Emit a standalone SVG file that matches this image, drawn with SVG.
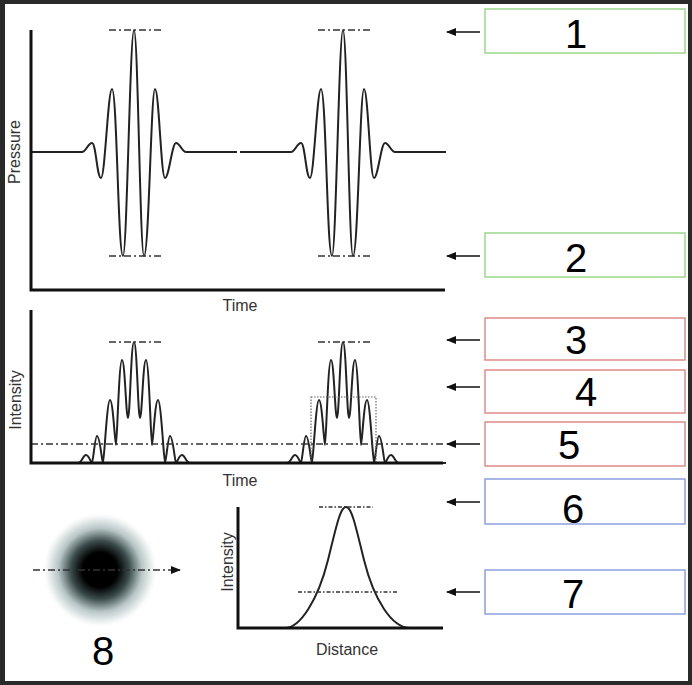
<svg xmlns="http://www.w3.org/2000/svg" width="692" height="685" viewBox="0 0 692 685">
<defs>
<style>
.ax{stroke:#111;stroke-width:3;fill:none}
.w{stroke:#222;stroke-width:2;fill:none}
.dd{stroke:#333;stroke-width:1.6;stroke-dasharray:7,3,2,3;fill:none}
.lbl{font-family:"Liberation Sans",Arial,sans-serif;font-size:16px;fill:#333}
.num{font-family:"Liberation Sans",Arial,sans-serif;font-size:40px;fill:#000}
.box{fill:#fff;stroke-width:1.5}
.g{stroke:#9ad88a}.r{stroke:#e08a8a}.b{stroke:#8f9fe0}
.ar{stroke:#111;stroke-width:1.5;marker-end:url(#ah)}
</style>
<marker id="ah" markerWidth="10" markerHeight="8" refX="9" refY="4" orient="auto" markerUnits="userSpaceOnUse"><path d="M0,0L10,4L0,8z" fill="#111"/></marker>
<radialGradient id="blob"><stop offset="0" stop-color="#000"/><stop offset="0.3" stop-color="#000"/><stop offset="0.5" stop-color="#3a4a4a"/><stop offset="0.72" stop-color="#b8c6c6"/><stop offset="0.9" stop-color="#eef2f2"/><stop offset="1" stop-color="#fff" stop-opacity="0"/></radialGradient>
<path id="pp" d="M31,152 L82,152 C86,152 88,143 92,143 C96,143 97,178 101,178 C105,178 108,89 112,89 C117,89 118,256 123,256 C127,256 130,30 134,30 C138,30 140,256 144,256 C149,256 151,89 155,89 C159,89 161,178 165,178 C169,178 172,143 176,143 C180,143 182,152 186,152 L237,152"/>
<path id="ip" d="M31,463 L78,463 C82,463 83,455 86,455 C89,455 91,463 92,463 C93,463 95,436 97,436 C100,436 102,463 103,463 C104,463 107,400 110,400 C113,400 115,445 116,445 C117,445 119,360 122,360 C125,360 126,418 128,418 C130,418 131,342 134,342 C137,342 138,418 140,418 C142,418 143,360 146,360 C149,360 151,445 152,445 C153,445 155,400 158,400 C161,400 164,463 165,463 C166,463 168,436 170,436 C173,436 175,463 176,463 C177,463 179,455 182,455 C185,455 186,463 190,463 L237,463"/>
</defs>
<rect width="692" height="685" fill="#2a2a2a"/>
<rect x="5" y="4" width="683" height="677" fill="#fff"/>
<g id="pressure-plot">
<use href="#pp" class="w"/>
<use href="#pp" class="w" transform="translate(209,0)"/>
<path class="dd" d="M109,30H162M109,256H162M318,30H371M318,256H371"/>
<path class="ax" d="M31,30V290H445"/>
<text class="lbl" x="240" y="311" text-anchor="middle">Time</text>
<text class="lbl" transform="translate(20,152) rotate(-90)" text-anchor="middle">Pressure</text>
</g>
<g id="intensity-plot">
<use href="#ip" class="w"/>
<use href="#ip" class="w" transform="translate(209,0)"/>
<path class="dd" d="M109,342H162M318,342H371M31,444H445"/>
<rect x="311" y="397" width="65" height="66" fill="none" stroke="#666" stroke-width="1.2" stroke-dasharray="1.5,1.5"/>
<path class="ax" d="M31,310V463H443"/>
<text class="lbl" x="240" y="486" text-anchor="middle">Time</text>
<text class="lbl" transform="translate(21,400) rotate(-90)" text-anchor="middle">Intensity</text>
</g>
<g id="spot">
<circle cx="100" cy="570" r="58" fill="url(#blob)"/>
<path class="dd" d="M33,570H180" style="marker-end:url(#ah)"/>
<text class="num" x="103" y="665" text-anchor="middle" font-size="46">8</text>
</g>
<g id="gauss-plot">
<path class="w" d="M285,628 C300,628 318,600 328,560 C336,528 340,507 346,507 C352,507 356,528 364,560 C374,600 392,628 410,628"/>
<path class="dd" d="M319,507H373M298,592H398" style="stroke-dasharray:4,2,1.5,2"/>
<path class="ax" d="M238,507V628H443"/>
<text class="lbl" x="347" y="655" text-anchor="middle">Distance</text>
<text class="lbl" transform="translate(233,562) rotate(-90)" text-anchor="middle">Intensity</text>
</g>
<g id="box1"><rect class="box g" x="485" y="9" width="200" height="44"/><text class="num" x="565" y="48">1</text></g>
<g id="box2"><rect class="box g" x="485" y="233" width="200" height="44"/><text class="num" x="565" y="272">2</text></g>
<g id="box3"><rect class="box r" x="485" y="318" width="200" height="42"/><text class="num" x="565" y="354">3</text></g>
<g id="box4"><rect class="box r" x="485" y="370" width="200" height="43"/><text class="num" x="575" y="406">4</text></g>
<g id="box5"><rect class="box r" x="485" y="422" width="200" height="44"/><text class="num" x="558" y="459">5</text></g>
<g id="box6"><rect class="box b" x="485" y="479" width="200" height="45"/><text class="num" x="562" y="523">6</text></g>
<g id="box7"><rect class="box b" x="485" y="570" width="200" height="44"/><text class="num" x="562" y="608">7</text></g>
<g id="connectors">
<path class="ar" d="M480,32H447"/>
<path class="ar" d="M480,256H447"/>
<path class="ar" d="M480,340H447"/>
<path class="ar" d="M480,387H447"/>
<path class="ar" d="M480,444H447"/>
<path class="ar" d="M480,502H447"/>
<path class="ar" d="M480,592H447"/>
</g>
</svg>
